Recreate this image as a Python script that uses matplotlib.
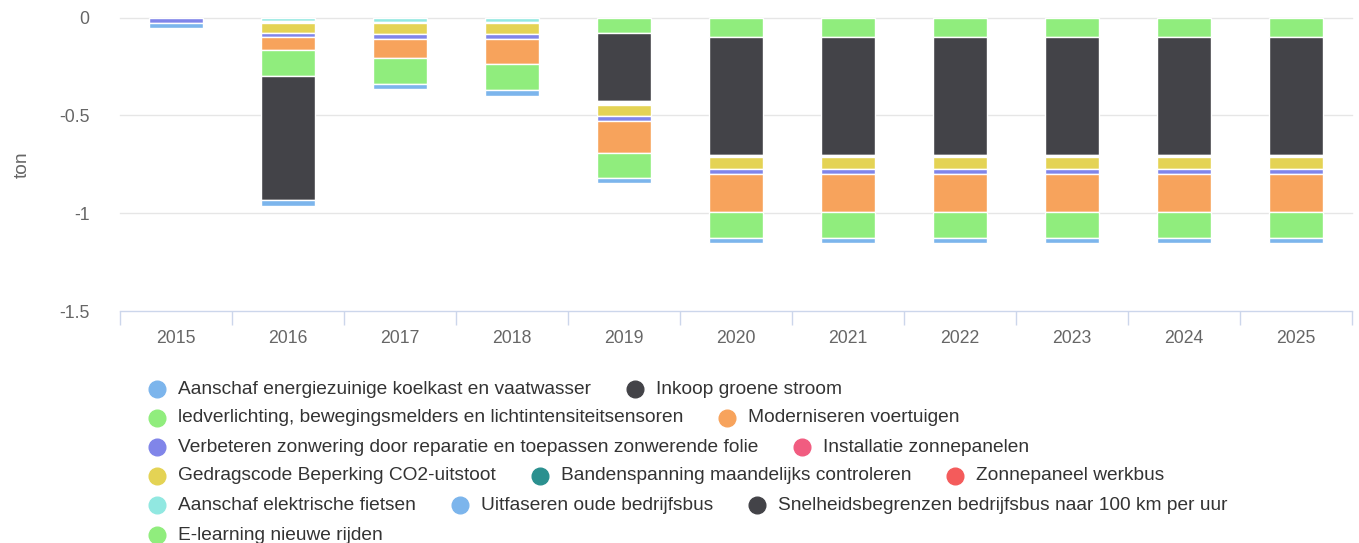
import numpy as np
import matplotlib
matplotlib.use("Agg")
import matplotlib.pyplot as plt
from matplotlib.lines import Line2D

plt.rcParams['font.family'] = ['Liberation Sans', 'DejaVu Sans']

jaren = ['2015', '2016', '2017', '2018', '2019', '2020', '2021', '2022', '2023', '2024', '2025']

# waarden in ton (negatief = besparing)
koelkast = [-0.027, -0.029, -0.026, -0.027, -0.026, -0.025, -0.025, -0.025, -0.025, -0.025, -0.025]
groene_stroom = [0, -0.637, 0, 0, 0, 0, 0, 0, 0, 0, 0]
ledverlichting = [0, -0.132, -0.133, -0.132, -0.130, -0.129, -0.129, -0.129, -0.129, -0.129, -0.129]
voertuigen = [0, -0.064, -0.097, -0.131, -0.164, -0.196, -0.196, -0.196, -0.196, -0.196, -0.196]
zonwering = [-0.027, -0.025, -0.026, -0.026, -0.025, -0.025, -0.025, -0.025, -0.025, -0.025, -0.025]
zonnepanelen = [0, 0, 0, 0, 0, 0, 0, 0, 0, 0, 0]
gedragscode = [0, -0.049, -0.056, -0.056, -0.058, -0.060, -0.060, -0.060, -0.060, -0.060, -0.060]
bandenspanning = [0, 0, 0, 0, 0, 0, 0, 0, 0, 0, 0]
werkbus = [0, 0, 0, 0, 0, 0, 0, 0, 0, 0, 0]
tussenruimte = [0, -0.008, -0.006, -0.006, -0.017, -0.014, -0.014, -0.014, -0.014, -0.014, -0.014]
fietsen = [0, -0.020, -0.021, -0.021, 0, 0, 0, 0, 0, 0, 0]
bedrijfsbus = [0, 0, 0, 0, 0, 0, 0, 0, 0, 0, 0]
snelheid = [0, 0, 0, 0, -0.350, -0.600, -0.600, -0.600, -0.600, -0.600, -0.600]
elearning = [0, 0, 0, 0, -0.078, -0.101, -0.101, -0.101, -0.101, -0.101, -0.101]

series = [
    ('Aanschaf energiezuinige koelkast en vaatwasser', koelkast, '#7cb5ec'),
    ('Inkoop groene stroom', groene_stroom, '#434348'),
    ('ledverlichting, bewegingsmelders en lichtintensiteitsensoren', ledverlichting, '#90ed7d'),
    ('Moderniseren voertuigen', voertuigen, '#f7a35c'),
    ('Verbeteren zonwering door reparatie en toepassen zonwerende folie', zonwering, '#8085e9'),
    ('Installatie zonnepanelen', zonnepanelen, '#f15c80'),
    ('Gedragscode Beperking CO2-uitstoot', gedragscode, '#e4d354'),
    ('Bandenspanning maandelijks controleren', bandenspanning, '#2b908f'),
    ('Zonnepaneel werkbus', werkbus, '#f45b5b'),
    (None, tussenruimte, '#ffffff'),
    ('Aanschaf elektrische fietsen', fietsen, '#91e8e1'),
    ('Uitfaseren oude bedrijfsbus', bedrijfsbus, '#7cb5ec'),
    ('Snelheidsbegrenzen bedrijfsbus naar 100 km per uur', snelheid, '#434348'),
    ('E-learning nieuwe rijden', elearning, '#90ed7d'),
]

W, H = 1359, 543
fig = plt.figure(figsize=(W / 100, H / 100), dpi=100)
ax = fig.add_axes([120 / W, 1 - 311 / H, (1352 - 120) / W, (311 - 17.5) / H])

x = np.arange(len(jaren))
onder = np.zeros(len(jaren))
# laatste serie ligt het dichtst bij nul
for naam, waarden, kleur in reversed(series):
    v = np.array(waarden)
    m = v != 0
    ax.bar(x[m], v[m], bottom=onder[m], width=0.48, color=kleur,
           edgecolor='white', linewidth=1, zorder=3)
    onder += v

ax.set_xlim(-0.5, len(jaren) - 0.5)
ax.set_ylim(-1.5, 0)
ax.set_yticks([0, -0.5, -1, -1.5])
ax.set_yticklabels(['0', '-0.5', '-1', '-1.5'])
ax.set_xticks(x)
ax.set_xticklabels(jaren)
ax.set_xticks(np.arange(-0.5, len(jaren)), minor=True)
ax.tick_params(axis='x', which='major', length=0, pad=14, labelsize=12.7, labelcolor='#666666')
ax.tick_params(axis='x', which='minor', length=10, width=1, color='#ccd6eb')
ax.tick_params(axis='y', length=0, pad=22, labelsize=12.7, labelcolor='#666666')
for k in ['top', 'right', 'left']:
    ax.spines[k].set_visible(False)
ax.spines['bottom'].set_color('#ccd6eb')
ax.spines['bottom'].set_linewidth(1)
for g in [0, -0.5, -1]:
    ax.axhline(g, color='#e6e6e6', linewidth=1, zorder=1, clip_on=False)
ax.set_ylabel('ton', fontsize=13.8, color='#666666')
ax.yaxis.set_label_coords((31 - 120) / (1352 - 120), 0.5)

# legenda, handmatig opgebouwd zoals in Highcharts
rijen = [[0, 1], [2, 3], [4, 5], [6, 7, 8], [10, 11, 12], [13]]
rij_y = [389, 418, 447, 476, 505, 535]
renderer = fig.canvas.get_renderer()
for rij, y in zip(rijen, rij_y):
    cx = 157
    for i in rij:
        naam, _, kleur = series[i]
        fig.add_artist(Line2D([cx / W], [1 - y / H], marker='o', markersize=12,
                              color=kleur, linestyle='none', transform=fig.transFigure))
        t = fig.text((cx + 21) / W, 1 - y / H, naam, fontsize=13.8, color='#333333',
                     va='center', ha='left')
        eind = t.get_window_extent(renderer).x1
        cx = eind + 44

fig.savefig('out.png', dpi=100)
